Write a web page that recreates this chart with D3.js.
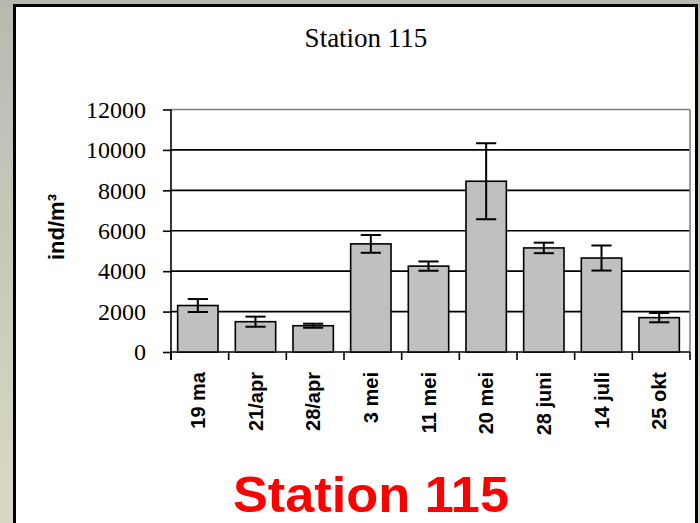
<!DOCTYPE html>
<html>
<head>
<meta charset="utf-8">
<script src="https://cdn.jsdelivr.net/npm/d3@7"></script>
<style>
  html, body { margin: 0; padding: 0; }
  body { width: 700px; height: 523px; overflow: hidden; }
  svg { display: block; }
</style>
</head>
<body>
<svg id="chart" width="700" height="523"></svg>
<script>
// Sampling dates, mean densities (ind/m³) and error-bar half-widths
const dates = ["19 ma", "21/apr", "28/apr", "3 mei", "11 mei", "20 mei", "28 juni", "14 juli", "25 okt"];
const means = [2300, 1500, 1300, 5350, 4250, 8450, 5150, 4650, 1700];
const errors = [320, 250, 100, 440, 230, 1880, 260, 620, 230];
const yTicks = [0, 2000, 4000, 6000, 8000, 10000, 12000];

const data = dates.map((d, i) => ({ date: d, mean: means[i], err: errors[i] }));

const svg = d3.select("#chart");
const W = 700, H = 523;

// Slide background and white panel
const defs = svg.append("defs");
const grad = defs.append("linearGradient").attr("id", "bg").attr("x1", 0).attr("y1", 0).attr("x2", 0).attr("y2", 1);
grad.append("stop").attr("offset", "0%").attr("stop-color", "#b9b9b2");
grad.append("stop").attr("offset", "100%").attr("stop-color", "#d9d9c3");
svg.append("rect").attr("width", W).attr("height", H).attr("fill", "url(#bg)");
svg.append("rect")
  .attr("x", 14.5).attr("y", 5.5).attr("width", 682).attr("height", H + 10)
  .attr("fill", "#fff").attr("stroke", "#000").attr("stroke-width", 3);

// Plot area
const plot = { left: 171, right: 690, top: 109.5, bottom: 352 };

const x = d3.scaleBand()
  .domain(dates)
  .range([plot.left, plot.right])
  .paddingInner(0.3)
  .paddingOuter(0.15);

const y = d3.scaleLinear()
  .domain([0, 12000])
  .range([plot.bottom, plot.top]);

// Horizontal gridlines
svg.append("g")
  .selectAll("line")
  .data(yTicks.filter(t => t > 0))
  .join("line")
  .attr("x1", plot.left).attr("x2", plot.right)
  .attr("y1", d => y(d)).attr("y2", d => y(d))
  .attr("stroke", d => d === 12000 ? "#808080" : "#000")
  .attr("stroke-width", 1.6);

// Right border of plot area
svg.append("line")
  .attr("x1", plot.right).attr("x2", plot.right)
  .attr("y1", plot.top).attr("y2", plot.bottom)
  .attr("stroke", "#808080").attr("stroke-width", 1.6);

// Y axis
const yAxis = d3.axisLeft(y).tickValues(yTicks).tickSize(8).tickPadding(17).tickFormat(d3.format("d"));
const gy = svg.append("g").attr("transform", `translate(${plot.left},0)`).call(yAxis);
gy.select(".domain").remove();
gy.selectAll(".tick line").attr("stroke", "#000").attr("stroke-width", 1.6);
gy.selectAll(".tick text")
  .attr("font-family", "'Liberation Serif', 'Times New Roman', serif")
  .attr("font-size", 24)
  .attr("fill", "#000");
svg.append("line")
  .attr("x1", plot.left).attr("x2", plot.left)
  .attr("y1", plot.top).attr("y2", plot.bottom + 8)
  .attr("stroke", "#000").attr("stroke-width", 1.6);

// X axis baseline and category boundary ticks
svg.append("line")
  .attr("x1", plot.left).attr("x2", plot.right)
  .attr("y1", plot.bottom).attr("y2", plot.bottom)
  .attr("stroke", "#000").attr("stroke-width", 1.6);
const step = x.step();
const bounds = d3.range(dates.length + 1).map(i => x(dates[0]) - step * x.paddingOuter() + i * step);
svg.append("g")
  .selectAll("line")
  .data(bounds)
  .join("line")
  .attr("x1", d => d).attr("x2", d => d)
  .attr("y1", plot.bottom).attr("y2", plot.bottom + 8)
  .attr("stroke", "#000").attr("stroke-width", 1.6);

// Bars
const shift = -2;
svg.append("g")
  .selectAll("rect")
  .data(data)
  .join("rect")
  .attr("x", d => x(d.date) + shift)
  .attr("y", d => y(d.mean))
  .attr("width", x.bandwidth())
  .attr("height", d => y(0) - y(d.mean))
  .attr("fill", "#c0c0c0")
  .attr("stroke", "#000")
  .attr("stroke-width", 1.6);

// Error bars
const cap = x.bandwidth() / 4;
const eb = svg.append("g").attr("stroke", "#000").attr("stroke-width", 2);
data.forEach(d => {
  const cx = x(d.date) + shift + x.bandwidth() / 2;
  const y1 = y(d.mean + d.err), y0 = y(d.mean - d.err);
  eb.append("line").attr("x1", cx).attr("x2", cx).attr("y1", y1).attr("y2", y0);
  eb.append("line").attr("x1", cx - cap).attr("x2", cx + cap).attr("y1", y1).attr("y2", y1);
  eb.append("line").attr("x1", cx - cap).attr("x2", cx + cap).attr("y1", y0).attr("y2", y0);
});

// Rotated category labels
svg.append("g")
  .selectAll("text")
  .data(data)
  .join("text")
  .attr("transform", d => `translate(${x(d.date) + shift + x.bandwidth() / 2 + 7},${plot.bottom + 20}) rotate(-90)`)
  .attr("text-anchor", "end")
  .attr("font-family", "'Liberation Sans', Arial, sans-serif")
  .attr("font-weight", "bold")
  .attr("font-size", 20)
  .attr("fill", "#000")
  .text(d => d.date);

// Axis title
svg.append("text")
  .attr("transform", "translate(64,227) rotate(-90)")
  .attr("text-anchor", "middle")
  .attr("font-family", "'Liberation Sans', Arial, sans-serif")
  .attr("font-weight", "bold")
  .attr("font-size", 22)
  .attr("fill", "#000")
  .text("ind/m³");

// Chart title
svg.append("text")
  .attr("x", 366).attr("y", 47)
  .attr("text-anchor", "middle")
  .attr("font-family", "'Liberation Serif', 'Times New Roman', serif")
  .attr("font-size", 27)
  .attr("fill", "#000")
  .text("Station 115");

// Slide caption
svg.append("text")
  .attr("x", 371).attr("y", 512)
  .attr("text-anchor", "middle")
  .attr("font-family", "'Liberation Sans', Arial, sans-serif")
  .attr("font-weight", "bold")
  .attr("font-size", 50)
  .attr("textLength", 276)
  .attr("lengthAdjust", "spacingAndGlyphs")
  .attr("fill", "#ff0000")
  .text("Station 115");
</script>
</body>
</html>
